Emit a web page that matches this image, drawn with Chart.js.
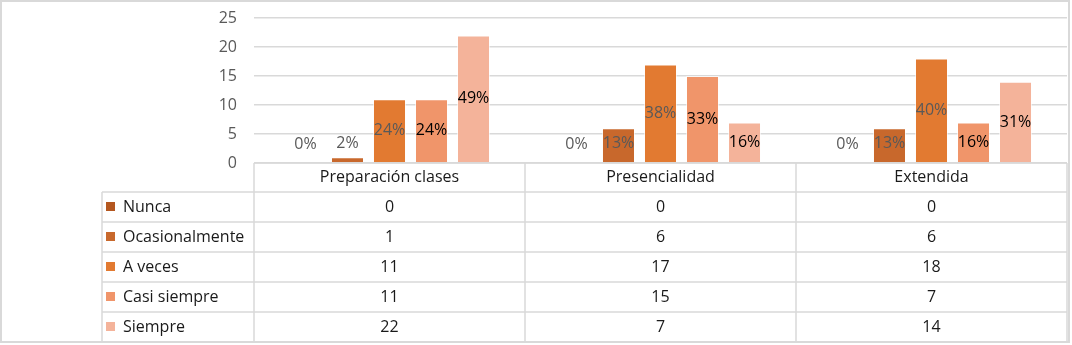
<!DOCTYPE html>
<html>
<head>
<meta charset="utf-8">
<script src="https://cdn.jsdelivr.net/npm/chart.js@4"></script>
<style>
    body { margin: 0; background: #fff; }
    #wrap { width: 1072px; height: 345px; }
</style>
</head>
<body>
<div id="wrap"><canvas id="chart" width="1072" height="345"></canvas></div>
<script>
// Data
const categories = ['Preparación clases', 'Presencialidad', 'Extendida'];
const seriesNames = ['Nunca', 'Ocasionalmente', 'A veces', 'Casi siempre', 'Siempre'];
const nunca = [0, 0, 0];
const ocasionalmente = [1, 6, 6];
const aVeces = [11, 17, 18];
const casiSiempre = [11, 15, 7];
const siempre = [22, 7, 14];
const yTicks = [0, 5, 10, 15, 20, 25];

const seriesValues = [nunca, ocasionalmente, aVeces, casiSiempre, siempre];
const seriesColors = ['#B4571F', '#C8682C', '#E27A31', '#F0956A', '#F4B39A'];
const labelColors = ['#595959', '#595959', '#595959', '#000000', '#000000'];

const FONT = '"Open Sans", "Noto Sans", sans-serif';
const GRID = '#d9d9d9';

// totals per category for the percentage labels
const totals = categories.map((c, i) => seriesValues.reduce((s, arr) => s + arr[i], 0));

// Percentage labels centred in each bar
const percentLabels = {
    id: 'percentLabels',
    afterDatasetsDraw(chart) {
        const ctx = chart.ctx;
        ctx.save();
        ctx.font = '16px ' + FONT;
        ctx.textAlign = 'center';
        ctx.textBaseline = 'middle';
        chart.data.datasets.forEach((ds, di) => {
            const meta = chart.getDatasetMeta(di);
            meta.data.forEach((bar, i) => {
                const pct = Math.round(ds.data[i] / totals[i] * 100) + '%';
                const y = Math.min((bar.y + bar.base) / 2, bar.base - 19);
                ctx.fillStyle = labelColors[di];
                ctx.fillText(pct, bar.x, y);
            });
        });
        ctx.restore();
    }
};

// Data table under the plot, columns taken from the x scale
const dataTable = {
    id: 'dataTable',
    afterDraw(chart) {
        const ctx = chart.ctx;
        const area = chart.chartArea;
        const xs = chart.scales.x;
        const top = area.bottom;
        const headH = 29;
        const rowH = 30;
        const leftX = 102;
        const n = categories.length;
        const colW = (area.right - area.left) / n;
        const edges = [];
        for (let i = 0; i <= n; i++) edges.push(area.left + colW * i);
        const bottom = top + headH + rowH * seriesNames.length;

        ctx.save();
        ctx.strokeStyle = GRID;
        ctx.lineWidth = 1.5;
        ctx.beginPath();
        // header row
        ctx.moveTo(area.left, top); ctx.lineTo(area.right, top);
        // data rows
        for (let r = 0; r <= seriesNames.length; r++) {
            const y = top + headH + rowH * r;
            ctx.moveTo(leftX, y); ctx.lineTo(area.right, y);
        }
        edges.forEach(x => { ctx.moveTo(x, top); ctx.lineTo(x, bottom); });
        ctx.moveTo(leftX, top + headH); ctx.lineTo(leftX, bottom);
        ctx.stroke();

        ctx.font = '16px ' + FONT;
        ctx.textBaseline = 'middle';
        ctx.fillStyle = '#1a1a1a';
        ctx.textAlign = 'center';
        categories.forEach((c, i) => {
            const cx = xs.getPixelForValue(i);
            ctx.fillText(c, cx, top + headH / 2);
            seriesValues.forEach((arr, r) => {
                ctx.fillText(String(arr[i]), cx, top + headH + rowH * r + rowH / 2);
            });
        });
        ctx.textAlign = 'left';
        seriesNames.forEach((name, r) => {
            const cy = top + headH + rowH * r + rowH / 2;
            ctx.fillStyle = seriesColors[r];
            ctx.fillRect(106, cy - 5, 9, 9);
            ctx.fillStyle = '#1a1a1a';
            ctx.fillText(name, 123, cy);
        });

        // chart frame
        ctx.strokeStyle = GRID;
        ctx.lineWidth = 2;
        ctx.strokeRect(1, 1, 1068, 341);
        ctx.restore();
    }
};

new Chart(document.getElementById('chart'), {
    type: 'bar',
    data: {
        labels: categories,
        datasets: seriesNames.map((name, i) => ({
            label: name,
            data: seriesValues[i],
            backgroundColor: seriesColors[i],
            borderColor: 'rgba(255,255,255,0.6)',
            borderWidth: 1,
            categoryPercentage: 0.775,
            barPercentage: 0.786
        }))
    },
    options: {
        responsive: false,
        animation: false,
        layout: { padding: { left: 0, top: 18, right: 5, bottom: 182 } },
        plugins: {
            legend: { display: false },
            tooltip: { enabled: false }
        },
        scales: {
            x: { display: false },
            y: {
                min: 0,
                max: 25,
                afterFit(scale) {
                    scale.width = 254;
                    scale.paddingTop = 0;
                    scale.paddingBottom = 0;
                },
                afterBuildTicks(scale) { scale.ticks = yTicks.map(v => ({ value: v })); },
                border: { display: false },
                grid: { color: GRID, lineWidth: 1.5, drawTicks: false },
                ticks: {
                    padding: 17,
                    color: '#595959',
                    font: { family: FONT, size: 16 }
                }
            }
        }
    },
    plugins: [percentLabels, dataTable]
});
</script>
</body>
</html>
